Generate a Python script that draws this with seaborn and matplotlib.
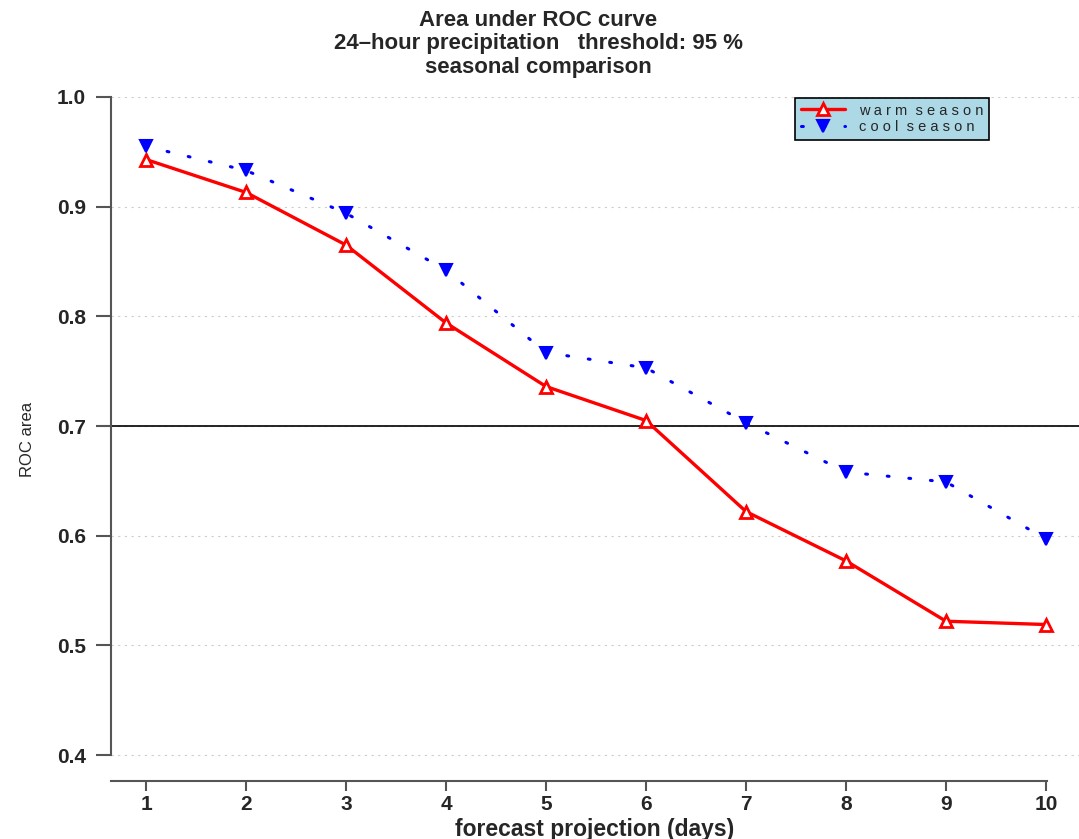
import pandas as pd
import matplotlib.pyplot as plt
import seaborn as sns

days = [1, 2, 3, 4, 5, 6, 7, 8, 9, 10]
warm_season = [0.943, 0.913, 0.865, 0.794, 0.736, 0.705, 0.622, 0.577, 0.522, 0.519]
cool_season = [0.955, 0.933, 0.894, 0.842, 0.767, 0.753, 0.703, 0.658, 0.649, 0.597]
y_ticks = [0.4, 0.5, 0.6, 0.7, 0.8, 0.9, 1.0]

df = pd.DataFrame({'day': days, 'warm': warm_season, 'cool': cool_season})

sns.set_style('white')
plt.rcParams['font.family'] = ['Liberation Sans', 'DejaVu Sans']

fig = plt.figure(figsize=(10.79, 8.39), dpi=100)
ax = fig.add_axes([0.1029, 0.0691, 0.8971, 0.8153])

# grid and reference line
for yt in y_ticks:
    ax.axhline(yt, color='#cccccc', linestyle=(0, (2, 4)), linewidth=0.8, zorder=0)
ax.axhline(0.7, color='black', linewidth=1.2, zorder=1)

sns.lineplot(data=df, x='day', y='warm', ax=ax, color='red', linewidth=2.4,
             marker='^', markersize=9, markerfacecolor='white', markeredgecolor='red',
             markeredgewidth=2, label='warm season', clip_on=False, zorder=3)
sns.lineplot(data=df, x='day', y='cool', ax=ax, color='blue', linewidth=2.2,
             linestyle=(0, (0.6, 6.5)), dash_capstyle='round',
             marker='v', markersize=8.5, markerfacecolor='blue', markeredgecolor='blue',
             markeredgewidth=1.5, label='cool season', clip_on=False, zorder=3)

ax.set_xlim(0.65, 10.33)
ax.set_ylim(0.3763, 1.0)
ax.set_xticks(days)
ax.set_yticks(y_ticks)
ax.set_yticklabels([f'{v:.1f}' for v in y_ticks])

for s in ['top', 'right']:
    ax.spines[s].set_visible(False)
ax.spines['left'].set_bounds(0.4, 1.0)
ax.spines['bottom'].set_bounds(0.65, 10.01)
for s in ['left', 'bottom']:
    ax.spines[s].set_color('#555555')
    ax.spines[s].set_linewidth(1.5)

ax.tick_params(axis='y', direction='out', length=11, width=1.5, color='#555555',
               labelsize=15, pad=7, left=True)
ax.tick_params(axis='x', direction='out', length=7, width=1.5, color='#555555',
               labelsize=15, pad=3, bottom=True)
for lab in ax.get_xticklabels() + ax.get_yticklabels():
    lab.set_fontweight('bold')

ax.set_xlabel('forecast projection (days)', fontsize=16.5, fontweight='bold', labelpad=3)
ax.set_ylabel('ROC area', fontsize=12, labelpad=16)

fig.text(0.499, 0.988, 'Area under ROC curve\n24\u2013hour precipitation   threshold: 95 %\nseasonal comparison',
         ha='center', va='top', fontsize=16, fontweight='bold', linespacing=1.15)

leg = ax.legend(loc='upper left', bbox_to_anchor=(0.7066, 0.999), frameon=True,
                fancybox=False, framealpha=1, facecolor='#add8e6', edgecolor='black',
                fontsize=10.5, handlelength=3.0, borderpad=0.4, labelspacing=0.2,
                handletextpad=1.0, borderaxespad=0)
leg.get_frame().set_linewidth(1.2)
for t in leg.get_texts():
    t.set_text(' '.join(t.get_text()).replace('   ', '  '))

plt.savefig('out.png', dpi=100)
plt.close()
